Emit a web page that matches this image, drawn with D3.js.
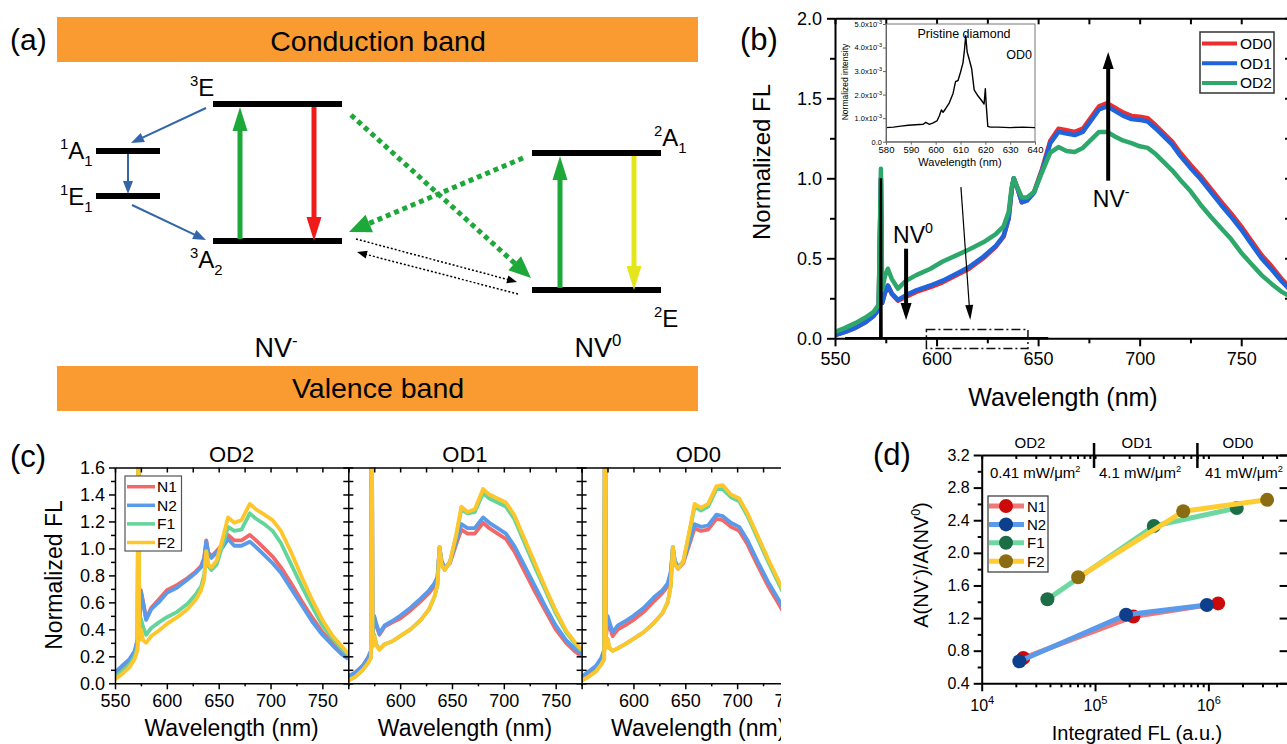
<!DOCTYPE html>
<html><head><meta charset="utf-8">
<script src="https://cdn.jsdelivr.net/npm/d3@7/dist/d3.min.js"></script>
<style>html,body{margin:0;padding:0;background:#fff;}svg{display:block;}</style>
</head><body>
<svg id="fig" width="1287" height="744"></svg>
<script>
const FONT = "'Liberation Sans', Arial, sans-serif";

// ---------------- DATA ----------------
// Panel (b): normalized FL spectra
const bWave = [550,555,560,565,569,571.5,572.6,573.2,574.5,576,578,581,585,590,597,603,610,616,623,629,633,635.5,637,638,639.5,642,644.5,648,652,656,660,664,668,672,676,680,684,688,692,696,700,704,708,712,716,720,725,730,735,740,745,750,755,760,765,770,775];
const bOD0 = [0.02,0.04,0.065,0.10,0.14,0.18,1.0,0.22,0.28,0.33,0.275,0.235,0.26,0.29,0.32,0.35,0.395,0.435,0.50,0.57,0.635,0.75,0.93,1.0,0.95,0.85,0.865,0.915,1.06,1.235,1.31,1.30,1.29,1.31,1.38,1.45,1.47,1.44,1.41,1.39,1.385,1.375,1.33,1.28,1.23,1.16,1.085,1.015,0.935,0.855,0.78,0.70,0.61,0.52,0.45,0.37,0.305];
const bOD1 = [0.02,0.04,0.065,0.10,0.14,0.18,1.0,0.22,0.28,0.33,0.28,0.24,0.27,0.30,0.33,0.36,0.405,0.445,0.51,0.575,0.64,0.75,0.93,1.0,0.95,0.85,0.86,0.91,1.05,1.22,1.29,1.28,1.27,1.29,1.36,1.43,1.45,1.42,1.39,1.37,1.365,1.355,1.31,1.26,1.21,1.14,1.065,0.995,0.915,0.835,0.76,0.68,0.59,0.50,0.43,0.355,0.29];
const bOD2 = [0.04,0.065,0.095,0.13,0.165,0.21,1.06,0.30,0.385,0.435,0.37,0.31,0.36,0.395,0.435,0.48,0.52,0.555,0.60,0.65,0.70,0.79,0.945,1.0,0.95,0.88,0.88,0.915,1.04,1.16,1.195,1.17,1.165,1.19,1.24,1.29,1.29,1.26,1.235,1.22,1.20,1.19,1.15,1.10,1.05,0.99,0.92,0.835,0.76,0.69,0.62,0.535,0.465,0.395,0.34,0.29,0.255];
const pristineWave = [555,572.3,572.6,572.9,655];
const pristineVal = [0,0,1.0,0,0];
const bLegend = ["OD0","OD1","OD2"];
const bXTicks = [550,600,650,700,750];
const bXMinor = [575,625,675,725,775];
const bYTicks = [0,0.5,1.0,1.5,2.0];
const bYMinor = [0.25,0.75,1.25,1.75];
// inset (pristine diamond, x1e-3)
const insetWave = [580,583,586,589,592,595,596,597.5,599,600.5,601.5,602.3,603,604,605.5,607,608,609,610,611,611.6,612.1,612.7,613.5,614.5,615.5,617,618.5,619.5,620,620.4,621,622,625,630,635,640];
const insetVal = [0.60,0.62,0.66,0.70,0.72,0.74,0.82,0.74,0.80,0.88,1.10,1.35,1.25,1.40,1.65,2.05,2.55,2.60,2.95,3.35,3.90,4.50,3.80,3.50,3.10,2.20,1.95,1.75,1.60,2.25,1.50,0.65,0.62,0.62,0.60,0.62,0.60];
const insetXTicks = [580,590,600,610,620,630,640];
const insetYTicks = [0,1,2,3,4,5];

// Panel (c): spectra for N1, N2, F1, F2 at OD2, OD1, OD0
const cWave = [550,557,564,569,571.8,572.6,573.4,575,577,580,585,592,600,610,620,628,633,636,638,640,643,648,654,659,665,672,680,686,694,702,710,720,730,740,750,760,768,775];
const cOD2_N1 = [0.07,0.12,0.17,0.23,0.32,2.5,0.45,0.69,0.61,0.48,0.56,0.62,0.69,0.73,0.78,0.83,0.87,0.93,1.06,0.97,0.94,0.98,1.03,1.10,1.06,1.06,1.10,1.06,1.00,0.94,0.86,0.74,0.61,0.49,0.38,0.30,0.25,0.21];
const cOD2_N2 = [0.08,0.13,0.18,0.24,0.33,2.5,0.45,0.68,0.60,0.47,0.55,0.60,0.67,0.71,0.77,0.82,0.86,0.92,1.05,0.96,0.93,0.97,1.01,1.07,1.02,1.02,1.05,1.01,0.95,0.89,0.82,0.70,0.58,0.46,0.36,0.28,0.22,0.18];
const cOD2_F1 = [0.05,0.09,0.14,0.20,0.28,2.5,0.38,0.48,0.42,0.36,0.41,0.45,0.49,0.53,0.59,0.66,0.72,0.80,0.98,0.87,0.84,0.88,1.03,1.16,1.13,1.14,1.26,1.22,1.18,1.13,1.04,0.88,0.72,0.57,0.43,0.33,0.26,0.21];
const cOD2_F2 = [0.03,0.07,0.12,0.18,0.25,2.5,0.32,0.40,0.32,0.30,0.35,0.39,0.44,0.49,0.55,0.62,0.69,0.77,0.98,0.88,0.86,0.91,1.08,1.23,1.19,1.21,1.33,1.29,1.25,1.21,1.13,0.97,0.79,0.62,0.47,0.35,0.28,0.22];
const cOD1_N1 = [0.05,0.08,0.13,0.19,0.24,2.5,0.35,0.49,0.43,0.36,0.42,0.45,0.48,0.54,0.61,0.67,0.72,0.78,1.00,0.90,0.85,0.89,1.03,1.14,1.11,1.11,1.19,1.15,1.11,1.07,0.98,0.83,0.68,0.54,0.40,0.30,0.24,0.20];
const cOD1_N2 = [0.05,0.08,0.13,0.19,0.24,2.5,0.35,0.50,0.44,0.37,0.43,0.46,0.50,0.56,0.63,0.69,0.74,0.79,1.01,0.91,0.85,0.90,1.05,1.18,1.15,1.15,1.23,1.19,1.15,1.11,1.02,0.87,0.72,0.57,0.43,0.32,0.26,0.22];
const cOD1_F1 = [0.02,0.05,0.10,0.15,0.19,2.5,0.28,0.36,0.29,0.25,0.29,0.31,0.35,0.40,0.47,0.55,0.64,0.73,1.01,0.88,0.84,0.90,1.09,1.29,1.26,1.27,1.41,1.37,1.34,1.31,1.22,1.04,0.86,0.69,0.52,0.38,0.30,0.24];
const cOD1_F2 = [0.02,0.05,0.10,0.15,0.19,2.5,0.27,0.35,0.28,0.25,0.29,0.31,0.35,0.40,0.47,0.55,0.64,0.73,1.01,0.88,0.84,0.90,1.10,1.31,1.27,1.29,1.44,1.40,1.37,1.34,1.25,1.07,0.89,0.71,0.54,0.39,0.31,0.25];
const cOD0_N1 = [0.04,0.08,0.12,0.17,0.23,2.5,0.33,0.47,0.42,0.35,0.40,0.43,0.47,0.53,0.61,0.67,0.72,0.81,1.00,0.90,0.85,0.89,1.03,1.15,1.13,1.14,1.22,1.21,1.16,1.13,1.03,0.87,0.72,0.59,0.46,0.35,0.28,0.23];
const cOD0_N2 = [0.05,0.09,0.13,0.19,0.25,2.5,0.35,0.50,0.45,0.38,0.43,0.46,0.50,0.56,0.64,0.69,0.74,0.83,1.01,0.91,0.86,0.90,1.05,1.18,1.16,1.17,1.25,1.24,1.19,1.16,1.06,0.90,0.75,0.62,0.49,0.37,0.30,0.25];
const cOD0_F1 = [0.02,0.05,0.09,0.14,0.18,2.5,0.26,0.33,0.26,0.24,0.26,0.29,0.33,0.38,0.45,0.52,0.60,0.72,1.01,0.88,0.85,0.90,1.12,1.31,1.28,1.31,1.44,1.44,1.38,1.35,1.24,1.07,0.90,0.74,0.58,0.44,0.35,0.29];
const cOD0_F2 = [0.02,0.05,0.09,0.14,0.18,2.5,0.26,0.33,0.26,0.24,0.26,0.29,0.33,0.38,0.45,0.52,0.60,0.72,1.01,0.88,0.85,0.90,1.13,1.33,1.30,1.33,1.46,1.47,1.40,1.37,1.26,1.09,0.92,0.76,0.60,0.46,0.37,0.31];
const cTitles = ["OD2","OD1","OD0"];
const cSeriesNames = ["N1","N2","F1","F2"];
const cXTicks = [550,600,650,700,750];
const cXMinor = [575,625,675,725,775];
const cYTicks = [0,0.2,0.4,0.6,0.8,1.0,1.2,1.4,1.6];
const cYMinor = [0.1,0.3,0.5,0.7,0.9,1.1,1.3,1.5];

// Panel (d): A(NV-)/A(NV0) vs integrated FL
const dN1x = [2.33e4, 2.18e5, 1.22e6], dN1y = [0.71, 1.22, 1.38];
const dN2x = [2.15e4, 1.88e5, 9.7e5],  dN2y = [0.67, 1.24, 1.36];
const dF1x = [3.8e4, 3.3e5, 1.78e6],   dF1y = [1.43, 2.33, 2.55];
const dF2x = [7.1e4, 6.0e5, 3.3e6],    dF2y = [1.70, 2.51, 2.65];
const dNames = ["N1","N2","F1","F2"];
const dYTicks = [0.4,0.8,1.2,1.6,2.0,2.4,2.8,3.2];
const dYMinor = [0.6,1.0,1.4,1.8,2.2,2.6,3.0];
const dXTicks = [1e4,1e5,1e6];
const dXMinor = [2e4,3e4,4e4,5e4,6e4,7e4,8e4,9e4,2e5,3e5,4e5,5e5,6e5,7e5,8e5,9e5,2e6,3e6,4e6,5e6];
const dODLabels = ["OD2","OD1","OD0"];
const dPowerLabels = ["0.41 mW/μm","4.1 mW/μm","41 mW/μm"];
const dODBounds = [9.8e4, 8.0e5];

// ---------------- HELPERS ----------------
const svg = d3.select('#fig').attr('font-family', FONT);
const defs = svg.append('defs');

function rich(g, x, y, parts, fs, anchor, extra) {
  const t = g.append('text').attr('x', x).attr('y', y).attr('font-size', fs)
    .attr('text-anchor', anchor || 'start').attr('fill', '#000');
  if (extra) extra(t);
  let cur = 0;
  parts.forEach(([txt, type]) => {
    const shift = type === 'sup' ? -0.42 * fs : type === 'sub' ? 0.3 * fs : 0;
    t.append('tspan').attr('dy', shift - cur).attr('font-size', type === 'n' ? fs : 0.62 * fs).text(txt);
    cur = shift;
  });
  return t;
}
function styleAxis(g, sw, fs) {
  g.attr('font-family', FONT).attr('font-size', fs);
  g.selectAll('path.domain').attr('stroke', '#000').attr('stroke-width', sw);
  g.selectAll('.tick line').attr('stroke', '#000').attr('stroke-width', sw);
  g.selectAll('.tick text').attr('fill', '#000');
  return g;
}
function arrow(g, x1, y1, x2, y2, o) {
  const dx = x2 - x1, dy = y2 - y1, L = Math.hypot(dx, dy), ux = dx / L, uy = dy / L;
  const bx = x2 - ux * o.hl, by = y2 - uy * o.hl;
  g.append('line').attr('x1', x1).attr('y1', y1).attr('x2', bx + ux * 2).attr('y2', by + uy * 2)
    .attr('stroke', o.c).attr('stroke-width', o.w).attr('stroke-dasharray', o.dash || null);
  g.append('path').attr('d', `M${x2},${y2}L${bx - uy * o.hw / 2},${by + ux * o.hw / 2}L${bx + uy * o.hw / 2},${by - ux * o.hw / 2}Z`)
    .attr('fill', o.c);
}

// ---------------- PANEL (a) ----------------
const A = svg.append('g');
const orange = '#f99b30';
A.append('rect').attr('x', 57).attr('y', 17).attr('width', 641).attr('height', 45).attr('fill', orange);
A.append('rect').attr('x', 57).attr('y', 366).attr('width', 641).attr('height', 45).attr('fill', orange);
A.append('text').attr('x', 378).attr('y', 51).attr('text-anchor', 'middle').attr('font-size', 28.5).text('Conduction band');
A.append('text').attr('x', 378).attr('y', 398).attr('text-anchor', 'middle').attr('font-size', 28.5).text('Valence band');
A.append('text').attr('x', 10).attr('y', 50).attr('font-size', 30).text('(a)');
const levels = [[96,160,151],[96,160,196],[213,342,104],[213,342,241],[532,661,153],[532,661,290]];
levels.forEach(l => A.append('line').attr('x1', l[0]).attr('x2', l[1]).attr('y1', l[2]).attr('y2', l[2])
  .attr('stroke', '#000').attr('stroke-width', 6));
const gArrow = {c: '#1fa83a', w: 5, hl: 24, hw: 15};
arrow(A, 240, 239, 240, 107, gArrow);
arrow(A, 314, 107, 314, 241, {c: '#f01a1a', w: 5, hl: 24, hw: 15});
arrow(A, 560, 288, 560, 156, gArrow);
arrow(A, 634, 156, 634, 290, {c: '#e3e61a', w: 5, hl: 24, hw: 15});
const bl = {c: '#3465a8', w: 2, hl: 13, hw: 10};
arrow(A, 206, 108, 131, 143, bl);
arrow(A, 128, 154, 128, 194, bl);
arrow(A, 132, 205, 206, 240, bl);
const gd = {c: '#1fa83a', w: 5, hl: 22, hw: 19, dash: '5,4'};
arrow(A, 351, 115, 531, 278, gd);
arrow(A, 523, 158, 349, 232, gd);
const kd = {c: '#000', w: 1.5, hl: 10, hw: 8, dash: '2,2'};
arrow(A, 356, 239, 517, 282, kd);
arrow(A, 518, 294, 357, 252, kd);
rich(A, 190, 96, [['3','sup'],['E','n']], 24);
rich(A, 60, 159, [['1','sup'],['A','n'],['1','sub']], 24);
rich(A, 60, 205, [['1','sup'],['E','n'],['1','sub']], 24);
rich(A, 190, 268, [['3','sup'],['A','n'],['2','sub']], 24);
rich(A, 654, 146, [['2','sup'],['A','n'],['1','sub']], 24);
rich(A, 654, 327, [['2','sup'],['E','n']], 24);
rich(A, 276, 357, [['NV','n'],['-','sup']], 27, 'middle');
rich(A, 598, 357, [['NV','n'],['0','sup']], 27, 'middle');

// ---------------- PANEL (b) ----------------
const B = svg.append('g');
const bX = d3.scaleLinear([550, 775], [835, 1292]);
const bY = d3.scaleLinear([0, 2], [338.3, 18.3]);
defs.append('clipPath').attr('id', 'clipB').append('rect')
  .attr('x', bX(550)).attr('y', bY(2)).attr('width', bX(775) - bX(550)).attr('height', bY(0) - bY(2));
const bLine = d3.line().x(d => bX(d[0])).y(d => bY(d[1]));
const bColors = ['#ee2e2e', '#1f64da', '#2ea86a'];
[bOD0, bOD1, bOD2].forEach((v, k) => {
  B.append('path').datum(bWave.map((w, i) => [w, v[i]])).attr('d', bLine).attr('fill', 'none')
    .attr('stroke', bColors[k]).attr('stroke-width', 4.5).attr('stroke-linejoin', 'round').attr('clip-path', 'url(#clipB)');
});
B.append('path').datum(pristineWave.map((w, i) => [w, pristineVal[i]])).attr('d', bLine).attr('fill', 'none')
  .attr('stroke', '#000').attr('stroke-width', 2.5);
// axes
styleAxis(B.append('g').attr('transform', `translate(0,${bY(0)})`)
  .call(d3.axisBottom(bX).tickValues(bXTicks).tickSize(8).tickSizeOuter(0).tickPadding(6).tickFormat(d3.format('d'))), 2, 18);
styleAxis(B.append('g').attr('transform', `translate(0,${bY(0)})`)
  .call(d3.axisBottom(bX).tickValues(bXMinor).tickSize(5).tickFormat('')), 2, 18).select('.domain').remove();
styleAxis(B.append('g').attr('transform', `translate(0,${bY(2)})`)
  .call(d3.axisTop(bX).tickValues(bXTicks.concat(bXMinor)).tickSize(-6).tickSizeOuter(0).tickFormat('')), 2, 18);
styleAxis(B.append('g').attr('transform', `translate(${bX(550)},0)`)
  .call(d3.axisLeft(bY).tickValues(bYTicks).tickSize(8).tickSizeOuter(0).tickPadding(5).tickFormat(d3.format('.1f'))), 2, 18);
styleAxis(B.append('g').attr('transform', `translate(${bX(550)},0)`)
  .call(d3.axisLeft(bY).tickValues(bYMinor).tickSize(5).tickFormat('')), 2, 18).select('.domain').remove();
styleAxis(B.append('g').attr('transform', `translate(${bX(775)},0)`)
  .call(d3.axisRight(bY).tickValues(bYTicks.concat(bYMinor)).tickSize(-7).tickSizeOuter(0).tickFormat('')), 2, 18);
B.append('text').attr('x', 1063).attr('y', 406).attr('text-anchor', 'middle').attr('font-size', 25).text('Wavelength (nm)');
B.append('text').attr('transform', 'translate(770,162) rotate(-90)').attr('text-anchor', 'middle').attr('font-size', 24).text('Normalized FL');
B.append('text').attr('x', 740).attr('y', 50).attr('font-size', 31).text('(b)');
// annotations
arrow(B, bX(585), bY(0.56), bX(585), bY(0.115), {c: '#000', w: 4, hl: 17, hw: 11});
rich(B, 913, 243, [['NV','n'],['0','sup']], 23, 'middle');
arrow(B, bX(684.5), bY(0.985), bX(684.5), bY(1.79), {c: '#000', w: 4, hl: 17, hw: 11});
rich(B, bX(684.5) + 3, 207, [['NV','n'],['-','sup']], 23, 'middle');
arrow(B, bX(612), bY(0.945), bX(616.6), bY(0.115), {c: '#000', w: 1.2, hl: 15, hw: 8});
B.append('rect').attr('x', bX(595)).attr('y', bY(0.055)).attr('width', bX(645) - bX(595)).attr('height', bY(-0.063) - bY(0.055))
  .attr('fill', 'none').attr('stroke', '#111').attr('stroke-width', 1.5).attr('stroke-dasharray', '9,3,2,3');
// legend
const bLeg = B.append('g');
bLeg.append('rect').attr('x', 1200).attr('y', 32).attr('width', 74).attr('height', 61).attr('fill', '#fff').attr('stroke', '#333').attr('stroke-width', 1.5);
bLegend.forEach((n, i) => {
  const y = 43.5 + i * 19.7;
  bLeg.append('line').attr('x1', 1202).attr('x2', 1237).attr('y1', y).attr('y2', y).attr('stroke', bColors[i]).attr('stroke-width', 4);
  bLeg.append('text').attr('x', 1240).attr('y', y + 5.5).attr('font-size', 15.5).text(n);
});
// inset
const I = svg.append('g');
const iX = d3.scaleLinear([580, 640], [886, 1035]);
const iY = d3.scaleLinear([0, 5], [141.7, 24]);
I.append('rect').attr('x', iX(580)).attr('y', iY(5)).attr('width', iX(640) - iX(580)).attr('height', iY(0) - iY(5))
  .attr('fill', '#fff').attr('stroke', '#777').attr('stroke-width', 1);
const iLine = d3.line().x(d => iX(d[0])).y(d => iY(d[1]));
I.append('path').datum(insetWave.map((w, i) => [w, insetVal[i]])).attr('d', iLine).attr('fill', 'none')
  .attr('stroke', '#000').attr('stroke-width', 1.4).attr('stroke-linejoin', 'round');
const ixa = styleAxis(I.append('g').attr('transform', `translate(0,${iY(0)})`)
  .call(d3.axisBottom(iX).tickValues(insetXTicks).tickSize(3).tickSizeOuter(0).tickPadding(2).tickFormat(d3.format('d'))), 1, 9.5);
ixa.selectAll('path.domain,.tick line').attr('stroke', '#666');
const iya = styleAxis(I.append('g').attr('transform', `translate(${iX(580)},0)`)
  .call(d3.axisLeft(iY).tickValues(insetYTicks).tickSize(3).tickSizeOuter(0).tickPadding(1).tickFormat(d => d)), 1, 7.5);
iya.selectAll('path.domain,.tick line').attr('stroke', '#666');
iya.selectAll('.tick text').each(function (d) {
  const t = d3.select(this); t.text(null);
  if (d === 0) { t.text('0.0'); return; }
  t.append('tspan').text(d.toFixed(1) + 'x10');
  t.append('tspan').attr('dy', -3).attr('font-size', 5.5).text('-3');
});
I.append('text').attr('x', 960).attr('y', 166).attr('text-anchor', 'middle').attr('font-size', 11).text('Wavelength (nm)');
I.append('text').attr('transform', 'translate(848,82) rotate(-90)').attr('text-anchor', 'middle').attr('font-size', 8.5).text('Normalized intensity');
I.append('text').attr('x', 964).attr('y', 38).attr('text-anchor', 'middle').attr('font-size', 12.5).text('Pristine diamond');
I.append('text').attr('x', 1032).attr('y', 59).attr('text-anchor', 'end').attr('font-size', 12.5).text('OD0');

// ---------------- PANEL (c) ----------------
defs.append('clipPath').attr('id', 'clipC').append('rect').attr('x', 0).attr('y', 420).attr('width', 781).attr('height', 330);
const C = svg.append('g').attr('clip-path', 'url(#clipC)');
const cLeft = [115, 348.3, 581.6], cW = 233.3;
const cY = d3.scaleLinear([0, 1.6], [683.3, 467.5]);
const cColors = ['#f26868', '#5a9aea', '#64d59a', '#fec62a'];
const cData = [[cOD2_N1, cOD2_N2, cOD2_F1, cOD2_F2], [cOD1_N1, cOD1_N2, cOD1_F1, cOD1_F2], [cOD0_N1, cOD0_N2, cOD0_F1, cOD0_F2]];
cData.forEach((series, p) => {
  const x = d3.scaleLinear([550, 775], [cLeft[p], cLeft[p] + cW]);
  defs.append('clipPath').attr('id', 'clipC' + p).append('rect')
    .attr('x', x(550)).attr('y', cY(1.6)).attr('width', cW).attr('height', cY(0) - cY(1.6));
  const line = d3.line().x(d => x(d[0])).y(d => cY(d[1]));
  const g = C.append('g');
  series.forEach((v, k) => {
    g.append('path').datum(cWave.map((w, i) => [w, v[i]])).attr('d', line).attr('fill', 'none')
      .attr('stroke', cColors[k]).attr('stroke-width', 3.8).attr('stroke-linejoin', 'round').attr('clip-path', `url(#clipC${p})`);
  });
  styleAxis(g.append('g').attr('transform', `translate(0,${cY(0)})`)
    .call(d3.axisBottom(x).tickValues(cXTicks).tickSize(6).tickSizeOuter(0).tickPadding(5)
      .tickFormat(d => (p > 0 && d === 550) ? '' : d3.format('d')(d))), 1.5, 18);
  styleAxis(g.append('g').attr('transform', `translate(0,${cY(0)})`)
    .call(d3.axisBottom(x).tickValues(cXMinor).tickSize(3).tickFormat('')), 1.5, 18).select('.domain').remove();
  styleAxis(g.append('g').attr('transform', `translate(0,${cY(1.6)})`)
    .call(d3.axisTop(x).tickValues(cXTicks.concat(cXMinor)).tickSize(-5).tickSizeOuter(0).tickFormat('')), 1.5, 18);
  const ly = g.append('g').attr('transform', `translate(${x(550)},0)`);
  if (p === 0) {
    styleAxis(ly.append('g').call(d3.axisLeft(cY).tickValues(cYTicks).tickSize(6).tickSizeOuter(0).tickPadding(4).tickFormat(d3.format('.1f'))), 1.5, 18);
    styleAxis(ly.append('g').call(d3.axisLeft(cY).tickValues(cYMinor).tickSize(4).tickFormat('')), 1.5, 18).select('.domain').remove();
  } else {
    styleAxis(ly.append('g').call(d3.axisLeft(cY).tickValues(cYTicks.concat(cYMinor)).tickSize(5).tickSizeOuter(0).tickFormat('')), 1.5, 18);
    styleAxis(ly.append('g').call(d3.axisLeft(cY).tickValues(cYTicks.concat(cYMinor)).tickSize(-5).tickFormat('')), 1.5, 18).select('.domain').remove();
  }
  if (p === 2) {
    styleAxis(g.append('g').attr('transform', `translate(${x(775)},0)`)
      .call(d3.axisRight(cY).tickValues(cYTicks.concat(cYMinor)).tickSize(-5).tickSizeOuter(0).tickFormat('')), 1.5, 18);
  }
  g.append('text').attr('x', x(662.5)).attr('y', 462).attr('text-anchor', 'middle').attr('font-size', 22).text(cTitles[p]);
  g.append('text').attr('x', x(662.5)).attr('y', 736).attr('text-anchor', 'middle').attr('font-size', 23).text('Wavelength (nm)');
});
C.append('text').attr('transform', 'translate(62,575) rotate(-90)').attr('text-anchor', 'middle').attr('font-size', 23).text('Normalized FL');
C.append('text').attr('x', 10).attr('y', 467).attr('font-size', 31).text('(c)');
const cLeg = C.append('g');
cLeg.append('rect').attr('x', 125).attr('y', 476).attr('width', 56.5).attr('height', 75).attr('fill', '#fff').attr('stroke', '#555').attr('stroke-width', 1.2);
cSeriesNames.forEach((n, i) => {
  const y = 486.7 + i * 18.6;
  cLeg.append('line').attr('x1', 127).attr('x2', 155).attr('y1', y).attr('y2', y).attr('stroke', cColors[i]).attr('stroke-width', 3.5);
  cLeg.append('text').attr('x', 157).attr('y', y + 5.5).attr('font-size', 15.5).text(n);
});

// ---------------- PANEL (d) ----------------
const D = svg.append('g');
const dX = d3.scaleLog([1e4, 5e6], [981.7, 1287.6]);
const dY = d3.scaleLinear([0.4, 3.2], [683.3, 455]);
const dLineCol = ['#f27878', '#5a9aea', '#6fd8a0', '#ffcd33'];
const dMarkCol = ['#cc0a0a', '#0d3f8c', '#1b6e46', '#8a6c12'];
const dSeries = [[dN1x, dN1y], [dN2x, dN2y], [dF1x, dF1y], [dF2x, dF2y]];
const dLine = d3.line().x(d => dX(d[0])).y(d => dY(d[1]));
dSeries.forEach(([xs, ys], k) => {
  const pts = xs.map((v, i) => [v, ys[i]]);
  D.append('path').datum(pts).attr('d', dLine).attr('fill', 'none').attr('stroke', dLineCol[k]).attr('stroke-width', 5).attr('stroke-linejoin', 'round');
  D.selectAll(null).data(pts).join('circle').attr('cx', d => dX(d[0])).attr('cy', d => dY(d[1])).attr('r', 7).attr('fill', dMarkCol[k]);
});
const dxa = styleAxis(D.append('g').attr('transform', `translate(0,${dY(0.4)})`)
  .call(d3.axisBottom(dX).tickValues(dXTicks).tickSize(8).tickSizeOuter(0).tickPadding(8).tickFormat(d => d)), 2, 16);
dxa.selectAll('.tick text').each(function (d) {
  const t = d3.select(this); t.text(null);
  t.append('tspan').text('10');
  t.append('tspan').attr('dy', -7).attr('font-size', 11).text(Math.round(Math.log10(d)));
});
styleAxis(D.append('g').attr('transform', `translate(0,${dY(0.4)})`)
  .call(d3.axisBottom(dX).tickValues(dXMinor).tickSize(4).tickFormat('')), 2, 16).select('.domain').remove();
styleAxis(D.append('g').attr('transform', `translate(0,${dY(3.2)})`)
  .call(d3.axisTop(dX).tickValues(dXTicks.concat(dXMinor)).tickSize(-4).tickSizeOuter(0).tickFormat('')), 2, 16);
styleAxis(D.append('g').attr('transform', `translate(${dX(1e4)},0)`)
  .call(d3.axisLeft(dY).tickValues(dYTicks).tickSize(8).tickSizeOuter(0).tickPadding(4).tickFormat(d3.format('.1f'))), 2, 16);
styleAxis(D.append('g').attr('transform', `translate(${dX(1e4)},0)`)
  .call(d3.axisLeft(dY).tickValues(dYMinor).tickSize(4).tickFormat('')), 2, 16).select('.domain').remove();
styleAxis(D.append('g').attr('transform', `translate(${dX(5e6)},0)`)
  .call(d3.axisRight(dY).tickValues(dYTicks).tickSize(-8).tickSizeOuter(0).tickFormat('')), 2, 16);
dODBounds.forEach(v => D.append('line').attr('x1', dX(v)).attr('x2', dX(v)).attr('y1', 443).attr('y2', 468).attr('stroke', '#000').attr('stroke-width', 2.5));
[1030, 1137, 1238].forEach((cx, i) => D.append('text').attr('x', cx).attr('y', 448).attr('text-anchor', 'middle').attr('font-size', 15).text(dODLabels[i]));
[990, 1099, 1205].forEach((x0, i) => rich(D, x0, 478, [[dPowerLabels[i], 'n'], ['2', 'sup']], 15));
D.append('text').attr('x', 1137).attr('y', 740).attr('text-anchor', 'middle').attr('font-size', 20).text('Integrated FL (a.u.)');
rich(D, 0, 0, [['A(NV','n'],['-','sup'],[')/A(NV','n'],['0','sup'],[')','n']], 20, 'middle',
  t => t.attr('transform', 'translate(928,565) rotate(-90)'));
D.append('text').attr('x', 873).attr('y', 465).attr('font-size', 31).text('(d)');
const dLeg = D.append('g');
dLeg.append('rect').attr('x', 988).attr('y', 496).attr('width', 60).attr('height', 76).attr('fill', '#fff').attr('stroke', '#333').attr('stroke-width', 1.2);
dNames.forEach((n, i) => {
  const y = 506 + i * 18.4;
  dLeg.append('line').attr('x1', 989).attr('x2', 1024).attr('y1', y).attr('y2', y).attr('stroke', dLineCol[i]).attr('stroke-width', 5);
  dLeg.append('circle').attr('cx', 1006).attr('cy', y).attr('r', 7).attr('fill', dMarkCol[i]);
  dLeg.append('text').attr('x', 1027).attr('y', y + 5.5).attr('font-size', 15).text(n);
});
</script>
</body></html>
